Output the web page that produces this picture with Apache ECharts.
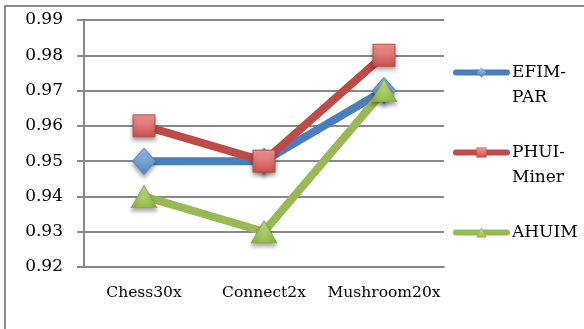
<!DOCTYPE html>
<html>
<head>
<meta charset="utf-8">
<script src="https://cdn.jsdelivr.net/npm/echarts@6/dist/echarts.min.js"></script>
<style>
  html, body { margin: 0; padding: 0; background: #fff; }
  #chart { width: 584px; height: 329px; }
</style>
</head>
<body>
<div id="chart"></div>
<script>
// Datasets on the x axis
const categories = ['Chess30x', 'Connect2x', 'Mushroom20x'];
// Series values
const efimPar = [0.95, 0.95, 0.97];
const phuiMiner = [0.96, 0.95, 0.98];
const ahuim = [0.94, 0.93, 0.97];
// Legend labels as they wrap beside the plot
const legendLabels = {
  'EFIM-PAR': ' \nEFIM-\nPAR',
  'PHUI-Miner': ' \nPHUI-\nMiner',
  'AHUIM': ' \nAHUIM\n '
};

const FONT = 'DejaVu Serif';
const GRID_COLOR = '#888888';

function grad(top, bottom) {
  return new echarts.graphic.LinearGradient(0, 0, 0, 1, [
    { offset: 0, color: top },
    { offset: 1, color: bottom }
  ]);
}

function lineSeries(name, data, color, symbol, size, fill, border) {
  return {
    name: name,
    type: 'line',
    data: data,
    symbol: symbol,
    symbolSize: size,
    lineStyle: { color: color, width: 8, cap: 'round', join: 'round' },
    itemStyle: {
      color: fill,
      borderColor: border,
      borderWidth: 1,
      shadowColor: 'rgba(0,0,0,0.35)',
      shadowBlur: 4,
      shadowOffsetY: 3
    },
    emphasis: { disabled: true },
    animation: false
  };
}

const chart = echarts.init(document.getElementById('chart'));
chart.setOption({
  backgroundColor: '#fff',
  animation: false,
  graphic: [{
    type: 'rect',
    shape: { x: 5, y: 6, width: 600, height: 340 },
    style: { fill: 'none', stroke: '#8c8c8c', lineWidth: 2 },
    silent: true
  }],
  grid: { left: 84, right: 140, top: 20, bottom: 62 },
  legend: {
    orient: 'vertical',
    left: 448,
    top: 30,
    itemWidth: 51,
    itemHeight: 12,
    itemGap: 5,
    lineStyle: { width: 6, cap: 'round' },
    itemStyle: { borderWidth: 0.5, shadowBlur: 0 },
    formatter: function (name) { return legendLabels[name]; },
    textStyle: { fontFamily: FONT, fontSize: 17, color: '#000', lineHeight: 25 },
    data: ['EFIM-PAR', 'PHUI-Miner', 'AHUIM']
  },
  xAxis: {
    type: 'category',
    data: categories,
    boundaryGap: true,
    axisLine: { lineStyle: { color: GRID_COLOR, width: 2 } },
    axisTick: { length: 5, lineStyle: { color: GRID_COLOR, width: 2 } },
    axisLabel: { interval: 0, fontFamily: FONT, fontSize: 15.5, color: '#000', margin: 18 }
  },
  yAxis: {
    type: 'value',
    min: 0.92,
    max: 0.99,
    interval: 0.01,
    axisLine: { show: true, lineStyle: { color: GRID_COLOR, width: 2 } },
    axisTick: { show: true, length: 7, lineStyle: { color: GRID_COLOR, width: 2 } },
    splitLine: { lineStyle: { color: GRID_COLOR, width: 2 } },
    axisLabel: {
      fontFamily: FONT, fontSize: 17, color: '#000', margin: 21,
      formatter: function (v) { return v.toFixed(2); }
    }
  },
  series: [
    lineSeries('EFIM-PAR', efimPar, '#4a7ebb', 'diamond', [23, 26], grad('#a6c4ef', '#4f81bd'), '#5b8ac6'),
    lineSeries('PHUI-Miner', phuiMiner, '#be4b48', 'rect', 22, grad('#f79a98', '#c94f4c'), '#b5504d'),
    lineSeries('AHUIM', ahuim, '#98b954', 'triangle', [25, 22], grad('#d0eb8f', '#93bb48'), '#8aad4b')
  ]
});
</script>
</body>
</html>
